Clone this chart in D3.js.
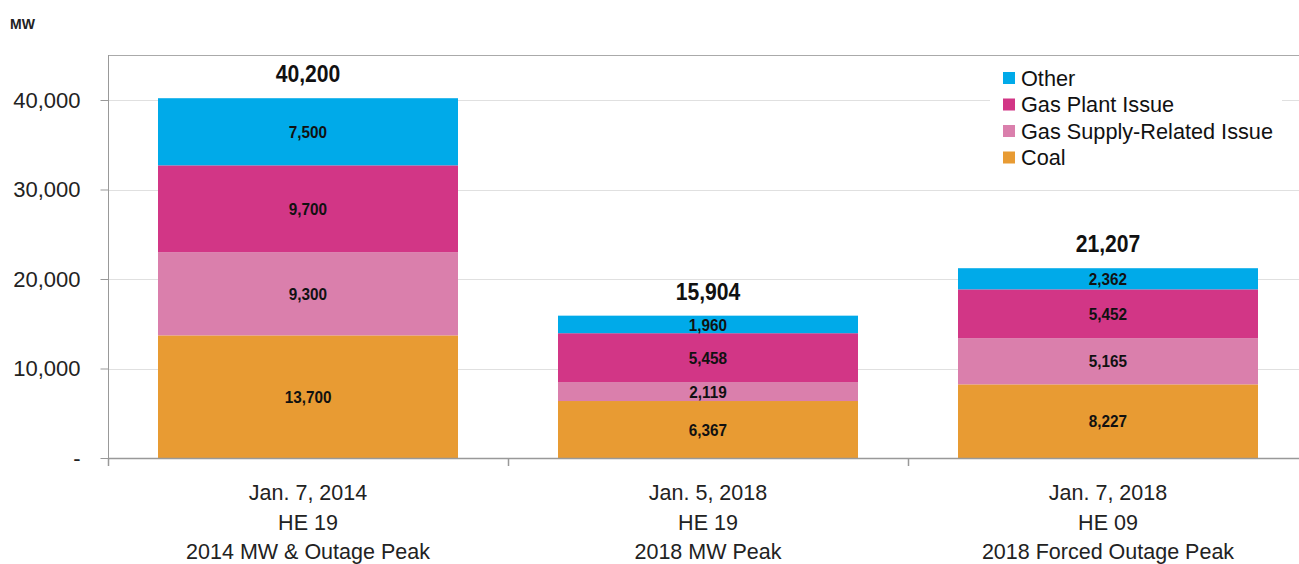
<!DOCTYPE html>
<html><head><meta charset="utf-8">
<script src="https://cdn.jsdelivr.net/npm/d3@7"></script>
<style>body{margin:0;background:#fff}svg{display:block}</style>
</head><body>
<svg id="c" width="1299" height="564"></svg>
<script>
const categories = ["2014","2018a","2018b"];
const categoryLabels = [
  ["Jan. 7, 2014","HE 19","2014 MW & Outage Peak"],
  ["Jan. 5, 2018","HE 19","2018 MW Peak"],
  ["Jan. 7, 2018","HE 09","2018 Forced Outage Peak"]
];
const seriesNames = ["Coal","Gas Supply-Related Issue","Gas Plant Issue","Other"];
const coal = [13700, 6367, 8227];
const gasSupply = [9300, 2119, 5165];
const gasPlant = [9700, 5458, 5452];
const other = [7500, 1960, 2362];
const totals = [40200, 15904, 21207];
const yTicks = [0, 10000, 20000, 30000, 40000];
const colors = ["#E89B33","#DA7FAC","#D23686","#00AAE9"];

const svg = d3.select("#c");
const mLeft = 108, mTop = 55, mBottom = 458, bandW = 400;
const x = d3.scaleBand().domain(categories).range([mLeft, mLeft + bandW*3]).paddingInner(0.25).paddingOuter(0.125);
const y = d3.scaleLinear().domain([0, 40000]).range([mBottom, 100]);
const FONT = "'Liberation Sans',Arial,sans-serif";

const seriesVals = [coal, gasSupply, gasPlant, other];
const rows = categories.map((c,i)=>{const o={cat:c}; seriesNames.forEach((s,j)=>o[s]=seriesVals[j][i]); return o;});
const stack = d3.stack().keys(seriesNames)(rows);

// plot border (top)
svg.append("line").attr("x1",mLeft).attr("x2",1299).attr("y1",mTop+0.5).attr("y2",mTop+0.5).attr("stroke","#aaa");
// gridlines
svg.append("g").selectAll("line").data(yTicks.filter(d=>d>0)).join("line")
  .attr("x1",mLeft).attr("x2",1299).attr("y1",d=>Math.round(y(d))+0.5).attr("y2",d=>Math.round(y(d))+0.5)
  .attr("stroke","#e0e0e0").attr("stroke-width",1.2);

// bars
const fmt = d3.format(",");
stack.forEach((s,j)=>{
  svg.append("g").selectAll("rect").data(s).join("rect")
    .attr("x",d=>x(d.data.cat)).attr("width",x.bandwidth())
    .attr("y",d=>y(d[1])).attr("height",d=>y(d[0])-y(d[1]))
    .attr("fill",colors[j]);
});
stack.forEach((s,j)=>{
  svg.append("g").selectAll("text").data(s).join("text")
    .attr("transform",d=>`translate(${x(d.data.cat)+x.bandwidth()/2},${(y(d[0])+y(d[1]))/2}) scale(0.9,1)`)
    .attr("dy","0.36em").attr("text-anchor","middle")
    .attr("font-family",FONT)
    .attr("font-weight","bold").attr("font-size",17).attr("fill","#111")
    .text(d=>fmt(d[1]-d[0]));
});
// totals
svg.append("g").selectAll("text").data(categories).join("text")
  .attr("transform",(c,i)=>`translate(${x(c)+x.bandwidth()/2},${y(d3.sum(seriesVals,v=>v[i]))-16}) scale(0.92,1)`)
  .attr("text-anchor","middle")
  .attr("font-family",FONT)
  .attr("font-weight","bold").attr("font-size",23).attr("fill","#111")
  .text((c,i)=>fmt(totals[i]));

// y axis
const yAxis = d3.axisLeft(y).tickValues(yTicks).tickSize(8).tickPadding(20)
  .tickFormat(d=>d===0?"-":fmt(d));
const ya = svg.append("g").attr("transform",`translate(${mLeft+0.5},0)`).call(yAxis);
ya.select(".domain").remove();
ya.selectAll("line").attr("stroke","#999");
ya.selectAll("text").attr("font-family",FONT).attr("font-size",22).attr("fill","#222");
svg.append("line").attr("x1",mLeft+0.5).attr("x2",mLeft+0.5).attr("y1",mTop).attr("y2",mBottom+8).attr("stroke","#999");

// x axis
svg.append("line").attr("x1",mLeft).attr("x2",1299).attr("y1",mBottom+0.5).attr("y2",mBottom+0.5).attr("stroke","#999").attr("stroke-width",1.5);
const bounds = d3.range(4).map(i=>mLeft+bandW*i);
svg.append("g").selectAll("line").data(bounds).join("line")
  .attr("x1",d=>d+0.5).attr("x2",d=>d+0.5).attr("y1",mBottom).attr("y2",mBottom+8).attr("stroke","#999").attr("stroke-width",1.5);
const xl = svg.append("g").selectAll("text").data(categories).join("text")
  .attr("x",c=>x(c)+x.bandwidth()/2).attr("y",500)
  .attr("text-anchor","middle").attr("font-family",FONT)
  .attr("font-size",21.5).attr("fill","#222");
xl.each(function(c,i){
  d3.select(this).selectAll("tspan").data(categoryLabels[i]).join("tspan")
    .attr("x",x(c)+x.bandwidth()/2).attr("dy",(d,k)=>k===0?0:29.5).text(d=>d);
});

// MW label
svg.append("text").attr("x",10).attr("y",29).attr("font-family",FONT)
  .attr("font-weight","bold").attr("font-size",14).attr("fill","#222").text("MW");

// legend
const lg = svg.append("g");
lg.append("rect").attr("x",990).attr("y",57).attr("width",292).attr("height",115).attr("fill","#fff");
const legendOrder = [3,2,1,0];
legendOrder.forEach((j,k)=>{
  const yy = 78 + k*26.5;
  lg.append("rect").attr("x",1003).attr("y",yy-6).attr("width",12).attr("height",12).attr("fill",colors[j]);
  lg.append("text").attr("x",1021).attr("y",yy).attr("dy","0.36em")
    .attr("font-family",FONT).attr("font-size",21.7).attr("fill","#111")
    .text(seriesNames[j]);
});
</script>
</body></html>
